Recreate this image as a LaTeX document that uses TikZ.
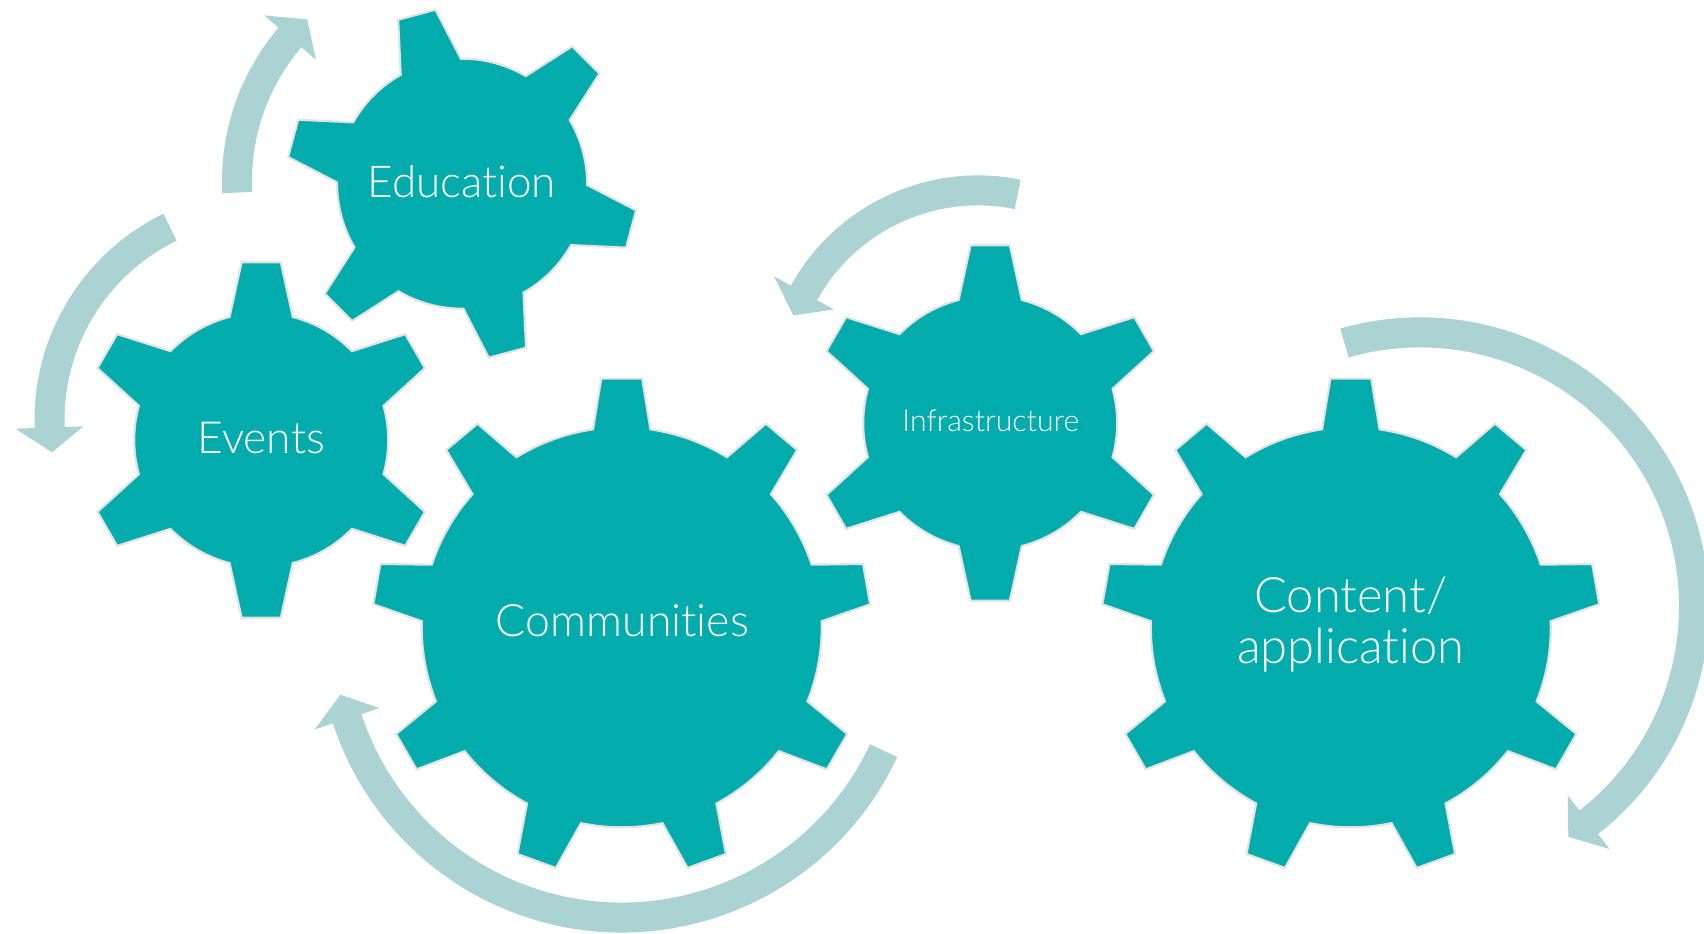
\documentclass[tikz,border=0pt]{standalone}
\usepackage{fontspec}
\setmainfont{Lato Light}[Ligatures={NoCommon,NoContextual}]
\usepackage{tikz}

\definecolor{gearteal}{HTML}{03ACAC}
\definecolor{bandblue}{HTML}{ABD3D3}
\definecolor{rimgrey}{HTML}{E3E3E3}

% centre x, centre y, teeth, body radius, tip radius, half angle at base, half angle at tip, first tooth
\newcommand{\drawgear}[8]{%
  \filldraw[gear, shift={(#1,#2)}] (#8+#6:#4)
    \foreach \k in {1,...,#3}{
      arc[start angle=#8+\k*360/#3-360/#3+#6, end angle=#8+\k*360/#3-#6, radius=#4]
      -- (#8+\k*360/#3-#7:#5) -- (#8+\k*360/#3+#7:#5) -- (#8+\k*360/#3+#6:#4)
    } -- cycle;}

% centre x, centre y, radius, tail angle, head angle, turn sign
\newcommand{\drawband}[6]{%
  \fill[band, shift={(#1,#2)}] (#4:#3+15) arc[start angle=#4, end angle=#5, radius=#3+15]
    -- (#5:#3+34) -- (#5#6 1432/#3:#3) -- (#5:#3-34) -- (#5:#3-15)
    arc[start angle=#5, end angle=#4, radius=#3-15] -- cycle;}

\begin{document}
\begin{tikzpicture}[x=0.01cm, y=0.01cm,
	gear/.style={fill=gearteal, draw=rimgrey, line width=0.6pt},
	band/.style={fill=bandblue},
	geartext/.style={text=white, inner sep=0pt}]
	
	\useasboundingbox (0,0) rectangle (1704,933);
	
	\drawband{458}{752}{221}{183}{139.5}{-}
	\drawband{264}{513}{214.5}{116}{182}{+}
	\drawband{978}{543.6}{199}{78.5}{151}{+}
	\drawband{621.7}{304.5}{289}{-25}{-161.8}{-}
	\drawband{1420}{326.6}{274}{106}{-52}{-}
	
	\drawgear{462.1}{749.3}{6}{125}{176}{14.4}{6.3}{105}
	\drawgear{261.2}{493}{6}{127}{178.8}{14.4}{6.3}{90}
	\drawgear{990.2}{510}{6}{127}{178.8}{14.4}{6.3}{90}
	\drawgear{621.7}{305.7}{9}{200}{249.5}{8.25}{4.7}{90}
	\drawgear{1350.8}{305.7}{9}{200}{249.5}{8.25}{4.7}{90}
	
	\node[geartext, anchor=base, font=\fontsize{12.5}{15}\selectfont] (education) at (461.7,735.3) {Education};
	\node[geartext, anchor=base, font=\fontsize{12.6}{15}\selectfont] (events) at (261.3,479) {Events};
	\node[geartext, anchor=base, font=\fontsize{12.7}{15}\selectfont] (communities) at (622.5,296.3) {Communities};
	\node[geartext, anchor=base, font=\fontsize{8.6}{10}\selectfont] (infrastructure) at (990.8,501.3) {Infrastructure};
	\node[geartext, align=center, font=\fontsize{13.9}{14.5}\selectfont] (content) at (1350.8,308) {Content/\\application};
	
\end{tikzpicture}
\end{document}
